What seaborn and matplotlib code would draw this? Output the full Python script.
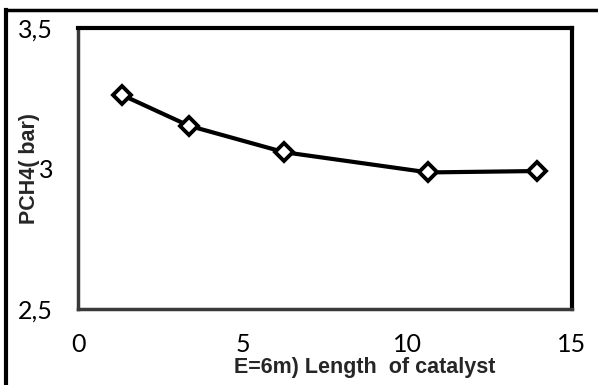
import matplotlib
matplotlib.use("Agg")
import matplotlib.pyplot as plt
from matplotlib.lines import Line2D
import seaborn as sns
import pandas as pd

# Data
length_of_catalyst = [1.33, 3.37, 6.26, 10.64, 13.95]
pch4_bar = [3.262, 3.152, 3.058, 2.986, 2.991]
x_ticks = [0, 5, 10, 15]
x_tick_labels = ["0", "5", "10", "15"]
y_ticks = [2.5, 3.0, 3.5]
y_tick_labels = ["2,5", "3", "3,5"]
x_label = "E=6m) Length  of catalyst"
y_label = "PCH4( bar)"

sns.set_theme(style="white")
plt.rcParams['font.family'] = ['Lato', 'DejaVu Sans']

df = pd.DataFrame({"x": length_of_catalyst, "y": pch4_bar})

fig = plt.figure(figsize=(5.98, 3.85), dpi=100)
ax = fig.add_axes([78/598, 1 - 309/385, (572-78)/598, (309-28)/385])

sns.lineplot(data=df, x="x", y="y", ax=ax, color="black", linewidth=3,
             marker="D", markersize=9.5, markerfacecolor="white",
             markeredgecolor="black", markeredgewidth=2.8)

ax.set_xlim(0, 15)
ax.set_ylim(2.5, 3.5)
ax.set_xticks(x_ticks)
ax.set_xticklabels(x_tick_labels)
ax.set_yticks(y_ticks)
ax.set_yticklabels(y_tick_labels)

ax.tick_params(axis="both", direction="out", length=5, width=1, color="#999999",
               labelsize=18, labelcolor="black")
ax.tick_params(axis="x", pad=12)
ax.tick_params(axis="y", pad=13)

for s in ["top", "right"]:
    ax.spines[s].set_color("black")
    ax.spines[s].set_linewidth(3)
for s in ["left", "bottom"]:
    ax.spines[s].set_color("#3a3a3a")
    ax.spines[s].set_linewidth(2.5)

label_font = dict(family=["Liberation Sans", "DejaVu Sans"], size=15.5, weight="bold")
ax.set_xlabel(x_label, fontdict=label_font, va="center")
ax.xaxis.set_label_coords((365-78)/494, (309-367)/281)
ax.set_ylabel(y_label, fontdict=label_font, va="center")
ax.yaxis.set_label_coords((29-78)/494, (309-168)/281)

# outer frame (left and top edges)
fig.add_artist(Line2D([6/598, 6/598], [0, 1 - 10/385], transform=fig.transFigure,
                      color="black", linewidth=3, solid_capstyle="projecting"))
fig.add_artist(Line2D([6/598, 1], [1 - 10/385, 1 - 10/385], transform=fig.transFigure,
                      color="black", linewidth=2.5, solid_capstyle="projecting"))

fig.savefig("out.png", dpi=100)
